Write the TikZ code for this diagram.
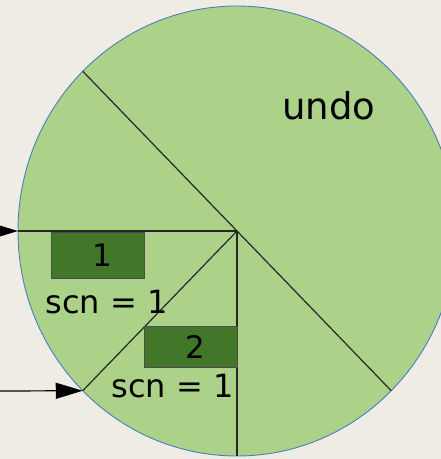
\documentclass[tikz,border=0pt]{standalone}
\usepackage{fontspec}
\newfontfamily\dejavu{DejaVu Sans}
\usetikzlibrary{arrows.meta,positioning,shapes.geometric}
\definecolor{paper}{RGB}{239,236,230}
\definecolor{piefill}{RGB}{172,210,138}
\definecolor{pieedge}{RGB}{74,126,187}
\definecolor{slotfill}{RGB}{66,118,40}

\begin{document}
\begin{tikzpicture}[x=1pt, y=-1pt,
    pie/.style={ellipse, draw=pieedge, line width=0.9pt, fill=piefill,
                inner sep=0pt, outer sep=0pt,
                minimum width=438pt, minimum height=450pt},
    slot/.style={draw=black!70, line width=0.7pt, fill=slotfill,
                 inner sep=0pt, minimum width=93pt,
                 font=\dejavu\fontsize{31}{31}\selectfont},
    cut/.style={line width=1.2pt, black!85},
    feed/.style={line width=1.2pt, -{Triangle[length=27pt, width=16pt]}},
    tag/.style={anchor=base, inner sep=0pt,
                font=\dejavu\fontsize{32}{32}\selectfont},
]

% === Page ===
\fill[paper] (0,0) rectangle (441,459);
\useasboundingbox (0,0) rectangle (441,459);

% === Undo space ===
\node[pie] (pie) at (237,231) {};
\node[anchor=base, inner sep=0pt, font=\dejavu\fontsize{37}{37}\selectfont]
  (undo) at (329,119) {undo};

% === Slices ===
\draw[cut] (pie.134) -- (pie.-46);
\draw[cut] (pie.center) -- (pie.south);
\draw[cut] (pie.center) -- (pie.226);
\draw[cut] (pie.center) -- (pie.west);

% === Incoming pointers ===
\coordinate (in1) at (-20,231);
\coordinate (in2) at (0,391);
\draw[feed] (in1) -- (pie.west);
\draw[feed] (in2) -- (pie.226);

% === Slots ===
\node[slot, minimum height=46pt] (s1) at (97.5,255) {\hspace*{9pt}1};
\node[slot, minimum height=41pt] (s2) at (190.5,346.5) {\hspace*{9pt}2};

\node[tag] (scn1) at (106.5,313) {scn = 1};
\node[tag] (scn2) at (172.5,397) {scn = 1};

\end{tikzpicture}
\end{document}
